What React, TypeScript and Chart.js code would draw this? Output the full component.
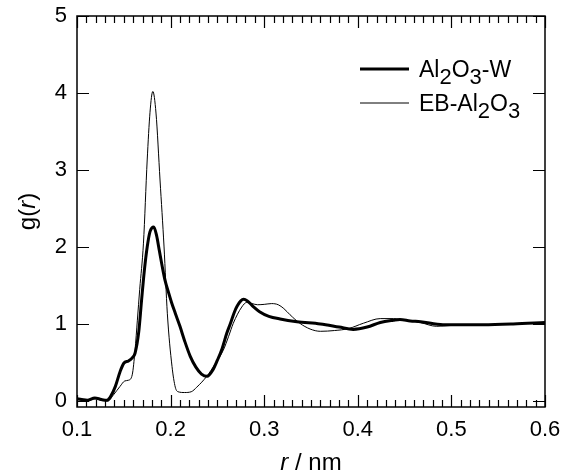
import React, { useEffect, useRef } from "react";
import { Chart, registerables } from "chart.js";

Chart.register(...registerables);

// Al2O3-W (thick line)
const rW = [0.100, 0.105, 0.111, 0.119, 0.126, 0.132, 0.136, 0.141, 0.146, 0.150, 0.155, 0.159, 0.162, 0.166, 0.169, 0.172, 0.175, 0.178, 0.182, 0.185, 0.188, 0.191, 0.194, 0.198, 0.201, 0.205, 0.210, 0.215, 0.221, 0.227, 0.233, 0.239, 0.245, 0.250, 0.255, 0.260, 0.264, 0.268, 0.271, 0.275, 0.278, 0.282, 0.288, 0.295, 0.305, 0.317, 0.335, 0.360, 0.380, 0.395, 0.410, 0.424, 0.438, 0.445, 0.456, 0.467, 0.491, 0.534, 0.566, 0.600];
const gW = [0.03, 0.02, 0.01, 0.04, 0.02, 0.01, 0.06, 0.19, 0.38, 0.49, 0.52, 0.56, 0.62, 0.90, 1.31, 1.70, 2.00, 2.20, 2.26, 2.15, 1.95, 1.75, 1.57, 1.40, 1.28, 1.14, 0.97, 0.78, 0.58, 0.44, 0.35, 0.32, 0.40, 0.53, 0.68, 0.88, 1.01, 1.15, 1.23, 1.30, 1.32, 1.30, 1.23, 1.16, 1.10, 1.065, 1.03, 1.00, 0.96, 0.93, 0.96, 1.02, 1.05, 1.06, 1.04, 1.03, 0.99, 0.99, 1.00, 1.02];

// EB-Al2O3 (thin line)
const rEB = [0.100, 0.110, 0.120, 0.128, 0.133, 0.139, 0.146, 0.151, 0.155, 0.159, 0.162, 0.1645, 0.167, 0.171, 0.175, 0.178, 0.181, 0.1844, 0.1887, 0.193, 0.1965, 0.2015, 0.205, 0.208, 0.215, 0.222, 0.228, 0.2386, 0.2475, 0.2563, 0.262, 0.267, 0.276, 0.2813, 0.287, 0.293, 0.300, 0.308, 0.315, 0.321, 0.3276, 0.338, 0.349, 0.360, 0.375, 0.390, 0.406, 0.424, 0.438, 0.445, 0.4665, 0.484, 0.4985, 0.534, 0.566, 0.600];
const gEB = [0.02, 0.00, 0.03, 0.00, 0.00, 0.08, 0.19, 0.26, 0.27, 0.34, 0.66, 1.05, 1.45, 2.05, 3.13, 3.75, 4.02, 3.74, 2.87, 2.00, 1.14, 0.45, 0.18, 0.12, 0.11, 0.12, 0.18, 0.32, 0.48, 0.66, 0.84, 1.01, 1.22, 1.28, 1.265, 1.25, 1.255, 1.265, 1.25, 1.20, 1.12, 1.01, 0.935, 0.905, 0.915, 0.94, 1.01, 1.07, 1.07, 1.06, 1.02, 0.97, 0.98, 0.99, 1.00, 1.02];

const seriesLabels = ["Al₂O₃-W", "EB-Al₂O₃"];
const xTicks = [0.1, 0.2, 0.3, 0.4, 0.5, 0.6];
const yTicks = [0, 1, 2, 3, 4, 5];

const FONT = "'Liberation Sans', Arial, Helvetica, sans-serif";
const SUBS: Record<string, string> = { "₀": "0", "₁": "1", "₂": "2", "₃": "3", "₄": "4" };

function drawRich(ctx: CanvasRenderingContext2D, text: string, x: number, y: number, size: number, subSize: number, subOff: number) {
  let cx = x;
  for (const ch of Array.from(text)) {
    if (SUBS[ch]) {
      ctx.font = `${subSize}px ${FONT}`;
      ctx.fillText(SUBS[ch], cx, y + subOff);
      cx += ctx.measureText(SUBS[ch]).width;
    } else {
      ctx.font = `${size}px ${FONT}`;
      ctx.fillText(ch, cx, y);
      cx += ctx.measureText(ch).width;
    }
  }
}

const decorPlugin = {
  id: "decor",
  afterDraw(chart: any) {
    const { ctx, chartArea: a, scales } = chart;
    const xs = scales.x;
    const ys = scales.y;
    ctx.save();
    ctx.strokeStyle = "#000";
    ctx.fillStyle = "#000";
    // frame
    ctx.lineWidth = 1.5;
    ctx.strokeRect(a.left, a.top, a.right - a.left, a.bottom - a.top);
    // x ticks (major + minor every 0.01)
    ctx.lineWidth = 1.2;
    ctx.beginPath();
    const x0 = Math.round(xTicks[0] * 100);
    const x1 = Math.round(xTicks[xTicks.length - 1] * 100);
    for (let k = x0; k <= x1; k++) {
      const px = Math.round(xs.getPixelForValue(k / 100)) + 0.5;
      const len = k % 10 === 0 ? 12 : 7;
      ctx.moveTo(px, a.bottom);
      ctx.lineTo(px, a.bottom - len);
      ctx.moveTo(px, a.top);
      ctx.lineTo(px, a.top + len);
    }
    for (const v of yTicks) {
      const py = Math.round(ys.getPixelForValue(v)) + 0.5;
      ctx.moveTo(a.left, py);
      ctx.lineTo(a.left + 12, py);
      ctx.moveTo(a.right, py);
      ctx.lineTo(a.right - 12, py);
    }
    ctx.stroke();

    // legend
    const legendY = [69, 103];
    chart.data.datasets.forEach((ds: any, i: number) => {
      ctx.lineWidth = ds.borderWidth;
      ctx.beginPath();
      ctx.moveTo(360, legendY[i]);
      ctx.lineTo(409, legendY[i]);
      ctx.stroke();
      ctx.textBaseline = "alphabetic";
      ctx.textAlign = "left";
      drawRich(ctx, ds.label, 419, legendY[i] + 8, 23, 22, 7);
    });

    // x title: "r / nm"
    ctx.textBaseline = "alphabetic";
    ctx.textAlign = "left";
    const italic = `italic 24px ${FONT}`;
    const normal = `24px ${FONT}`;
    ctx.font = italic;
    const wr = ctx.measureText("r").width;
    ctx.font = normal;
    const wrest = ctx.measureText(" / nm").width;
    const cx = (a.left + a.right) / 2;
    const sx = cx - (wr + wrest) / 2;
    ctx.font = italic;
    ctx.fillText("r", sx, 470);
    ctx.font = normal;
    ctx.fillText(" / nm", sx + wr, 470);

    // y title: "g(r)"
    const parts: [string, string][] = [["g(", normal], ["r", italic], [")", normal]];
    let total = 0;
    for (const [t, f] of parts) { ctx.font = f; total += ctx.measureText(t).width; }
    ctx.translate(35, (a.top + a.bottom) / 2);
    ctx.rotate(-Math.PI / 2);
    let tx = -total / 2;
    for (const [t, f] of parts) {
      ctx.font = f;
      ctx.fillText(t, tx, 0);
      tx += ctx.measureText(t).width;
    }
    ctx.restore();
  },
};

export default function App() {
  const ref = useRef<HTMLCanvasElement | null>(null);
  useEffect(() => {
    const canvas = ref.current;
    if (!canvas) return;
    const chart = new Chart(canvas, {
      type: "line",
      data: {
        datasets: [
          {
            label: seriesLabels[0],
            data: rW.map((r, i) => ({ x: r, y: gW[i] })),
            borderColor: "#000",
            borderWidth: 3,
            pointRadius: 0,
            fill: false,
            cubicInterpolationMode: "monotone",
          },
          {
            label: seriesLabels[1],
            data: rEB.map((r, i) => ({ x: r, y: gEB[i] })),
            borderColor: "#000",
            borderWidth: 1,
            pointRadius: 0,
            fill: false,
            cubicInterpolationMode: "monotone",
          },
        ],
      },
      options: {
        animation: false,
        responsive: false,
        devicePixelRatio: 1,
        layout: { padding: { left: 0, top: 16, right: 27, bottom: 0 } },
        plugins: { legend: { display: false }, tooltip: { enabled: false } },
        scales: {
          x: {
            type: "linear",
            min: 0.1,
            max: 0.6,
            grid: { display: false, drawTicks: false },
            border: { display: false },
            afterBuildTicks: (s: any) => { s.ticks = xTicks.map((v) => ({ value: v })); },
            afterFit: (s: any) => { s.height = 68; s.paddingLeft = 0; s.paddingRight = 0; },
            ticks: {
              padding: 10,
              color: "#000",
              font: { family: FONT, size: 22 },
              maxRotation: 0,
              autoSkip: false,
              callback: (v: any) => Number(v).toFixed(1),
            },
          },
          y: {
            type: "linear",
            min: -0.078,
            max: 5,
            grid: { display: false, drawTicks: false },
            border: { display: false },
            afterBuildTicks: (s: any) => { s.ticks = yTicks.map((v) => ({ value: v })); },
            afterFit: (s: any) => { s.width = 77; s.paddingTop = 0; s.paddingBottom = 0; },
            ticks: {
              padding: 10,
              color: "#000",
              font: { family: FONT, size: 22 },
              autoSkip: false,
              callback: (v: any) => String(v),
            },
          },
        },
      },
      plugins: [decorPlugin],
    } as any);
    return () => chart.destroy();
  }, []);
  return (
    <div style={{ position: "fixed", left: 0, top: 0, width: 572, height: 475, background: "#fff" }}>
      <canvas ref={ref} width={572} height={475} />
    </div>
  );
}
